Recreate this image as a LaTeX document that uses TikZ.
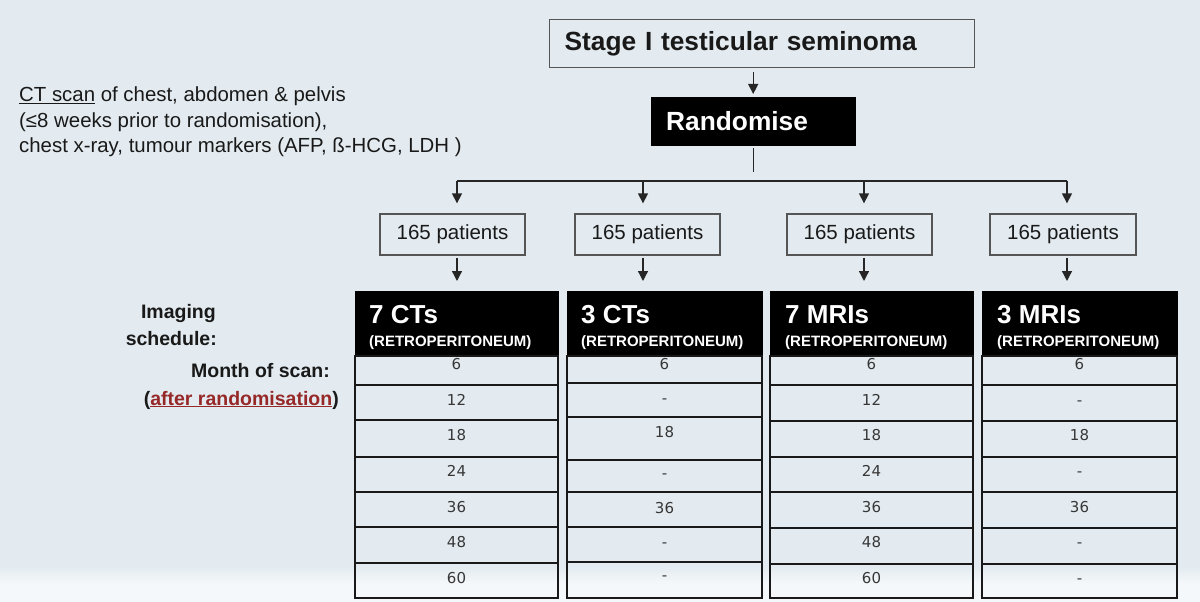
\documentclass[tikz,border=0pt]{standalone}
\usepackage{fontspec}
\setmainfont{Liberation Sans}
\newfontfamily\numfont{DejaVu Sans}
\usetikzlibrary{arrows.meta}
\definecolor{bg}{RGB}{227,235,240}
\definecolor{bgwhite}{RGB}{245,248,250}
\definecolor{boxline}{RGB}{85,85,85}
\definecolor{tabline}{RGB}{25,25,25}
\definecolor{darkred}{RGB}{150,40,40}
\definecolor{txt}{RGB}{25,25,25}
\definecolor{numcol}{RGB}{55,55,55}
\begin{document}
\begin{tikzpicture}[x=1pt,y=-1pt,
  plainbox/.style={draw=boxline, line width=1.3pt, inner ysep=0pt, text=txt},
  blackbox/.style={fill=black, draw=black, inner ysep=0pt, text=white},
  pbox/.style={draw=boxline, line width=1.3pt, inner sep=0pt, text=txt,
     font=\fontsize{20.5pt}{24pt}\selectfont},
  hdr/.style={fill=black, draw=black, line width=1pt, inner sep=0pt},
  hbig/.style={anchor=base west, inner sep=0pt, text=white,
     font=\fontsize{26pt}{30pt}\selectfont\bfseries},
  hsmall/.style={anchor=base west, inner sep=0pt, text=white,
     font=\fontsize{15pt}{18pt}\selectfont\bfseries},
  num/.style={inner sep=0pt, text=numcol, text height=11pt, text depth=0pt,
     font=\numfont\fontsize{15pt}{17pt}\selectfont},
  conn/.style={draw=black!85, line width=1.3pt},
  arr/.style={conn, -{Triangle[length=10pt,width=10pt]}},
  tab/.style={draw=tabline, line width=1.6pt},
  lefttxt/.style={anchor=base west, inner sep=0pt, text=txt,
     font=\fontsize{20.4pt}{24pt}\selectfont},
  lbl/.style={anchor=base east, inner sep=0pt, text=txt,
     font=\fontsize{19.5pt}{24pt}\selectfont\bfseries}
]
\useasboundingbox (0,0) rectangle (1200,602);
\fill[bg] (0,0) rectangle (1200,602);
\shade[top color=bg, bottom color=bgwhite] (0,566) rectangle (1200,584);
\fill[bgwhite] (0,584) rectangle (1200,602);

% left notes
\node[lefttxt] (n1) at (19,102) {\underline{CT scan} of chest, abdomen \& pelvis};
\node[lefttxt] (n2) at (19,127) {(≤8 weeks prior to randomisation),};
\node[lefttxt] (n3) at (19,152) {chest x-ray, tumour markers (AFP, ß-HCG, LDH )};

\node[lbl] (l1) at (216,318) {Imaging};
\node[lbl] (l2) at (217,345) {schedule:};
\node[lbl] (l3) at (330,377) {Month of scan:};
\node[lbl] (l4) at (339,405) {(\textcolor{darkred}{\underline{after randomisation}})};

% top boxes
\node[plainbox, anchor=north west, minimum width=425pt, minimum height=48pt,
  text width=395pt, inner xsep=15pt, align=left,
  font=\fontsize{26.3pt}{30pt}\selectfont\bfseries] (stage) at (549,19) {Stage I testicular seminoma};
\node[blackbox, anchor=north west, minimum width=204pt, minimum height=48pt,
  text width=174pt, inner xsep=15pt, align=left,
  font=\fontsize{26.3pt}{30pt}\selectfont\bfseries] (rand) at (651,97) {Randomise};
\draw[arr, shorten <=4pt, shorten >=3pt] (stage.south -| rand.north) -- (rand.north);

% bus
\coordinate (b1) at (457,181);
\coordinate (b2) at (643,181);
\coordinate (b3) at (864,181);
\coordinate (b4) at (1067,181);
\draw[conn, shorten <=3pt, shorten >=9pt] (rand.south) -- (rand.south |- b1);
\draw[conn] (b1) -- (b4);

% patient boxes
\node[pbox, minimum width=145pt, minimum height=41pt] (p1) at (452.5,234.5) {165 patients};
\node[pbox, minimum width=145pt, minimum height=41pt] (p2) at (647.5,234.5) {165 patients};
\node[pbox, minimum width=145pt, minimum height=41pt] (p3) at (859.5,234.5) {165 patients};
\node[pbox, minimum width=146pt, minimum height=41pt] (p4) at (1063,234.5) {165 patients};

% headers
\node[hdr, anchor=north west, minimum width=203pt, minimum height=65pt] (h1) at (355,291) {};
\node[hdr, anchor=north west, minimum width=195pt, minimum height=65pt] (h2) at (567,291) {};
\node[hdr, anchor=north west, minimum width=203pt, minimum height=65pt] (h3) at (770,291) {};
\node[hdr, anchor=north west, minimum width=195pt, minimum height=65pt] (h4) at (982,291) {};

\node[hbig] (h1a) at (369,323) {7 CTs};
\node[hsmall] (h1b) at (369,346) {(RETROPERITONEUM)};
\node[hbig] (h2a) at (581,323) {3 CTs};
\node[hsmall] (h2b) at (581,346) {(RETROPERITONEUM)};
\node[hbig] (h3a) at (785,323) {7 MRIs};
\node[hsmall] (h3b) at (785,346) {(RETROPERITONEUM)};
\node[hbig] (h4a) at (997,323) {3 MRIs};
\node[hsmall] (h4b) at (997,346) {(RETROPERITONEUM)};

% arrows
\foreach \i in {1,2,3,4}{
  \draw[arr, shorten >=10pt] (b\i) -- (b\i |- p\i.north);
  \draw[arr, shorten <=2pt, shorten >=10pt] (b\i |- p\i.south) -- (b\i |- h\i.north);
}

% table bodies
\draw[tab] (355,356) rectangle (558,598);
\foreach \y in {385,420,457,492,527,563}{ \draw[tab] (355,\y) -- (558,\y); }
\draw[tab] (567,356) rectangle (762,598);
\foreach \y in {383,417,460,492,527,562}{ \draw[tab] (567,\y) -- (762,\y); }
\draw[tab] (770,356) rectangle (973,598);
\foreach \y in {385,421,457,492,528,564}{ \draw[tab] (770,\y) -- (973,\y); }
\draw[tab] (982,356) rectangle (1177,598);
\foreach \y in {385,421,457,492,528,564}{ \draw[tab] (982,\y) -- (1177,\y); }

% numbers
\foreach \v/\y [count=\r] in {6/364,12/400,18/435,24/471,36/507,48/542,60/578}{
  \node[num] (c1r\r) at (456.5,\y) {\v};
  \node[num] (c3r\r) at (871.5,\y) {\v};
}
\foreach \v/\y [count=\r] in {6/364,-/398,18/432,-/473,36/508,-/542,-/575}{
  \node[num] (c2r\r) at (664.5,\y) {\v};
}
\foreach \v/\y [count=\r] in {6/364,-/400,18/435,-/471,36/507,-/542,-/578}{
  \node[num] (c4r\r) at (1079.5,\y) {\v};
}
\end{tikzpicture}
\end{document}
